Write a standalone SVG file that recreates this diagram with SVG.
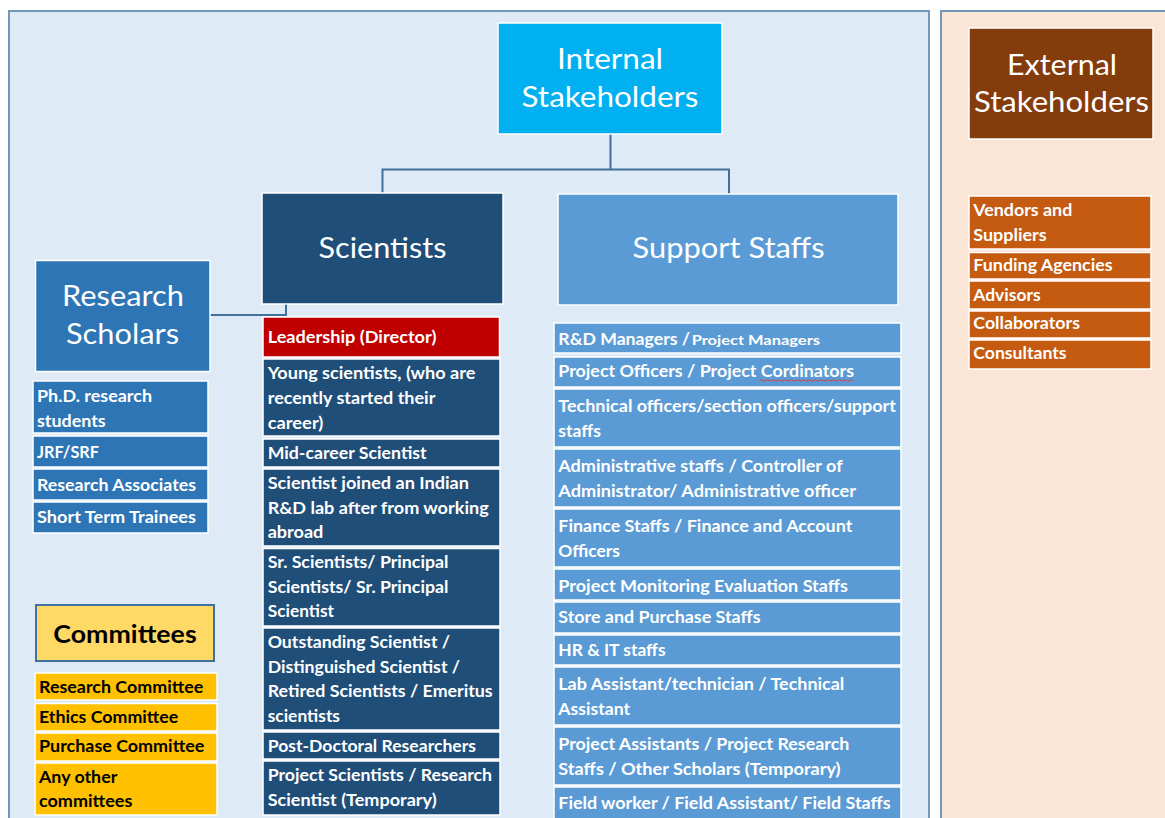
<svg xmlns="http://www.w3.org/2000/svg" width="1165" height="818" viewBox="0 0 1165 818">
  <style>
    .panel { stroke: #7396bb; stroke-width: 2; }
    .box { stroke: #ffffff; stroke-width: 1.5; }
    .title { font-family: Lato, "Liberation Sans", sans-serif; font-size: 29px; fill: #ffffff; text-anchor: middle; }
    .item { font-family: Lato, "Liberation Sans", sans-serif; font-size: 17px; font-weight: 700; fill: #ffffff; }
    .dark { fill: #000000; }
    .conn { fill: none; stroke: #41719c; stroke-width: 2; }
  </style>

  <rect width="1165" height="818" fill="#ffffff"/>

  <!-- panels -->
  <rect id="internal-panel" class="panel" x="9" y="11" width="920" height="830" fill="#deebf7"/>
  <rect id="external-panel" class="panel" x="941" y="11" width="240" height="830" fill="#fbe5d6"/>

  <!-- connectors -->
  <g id="connectors">
    <path class="conn" d="M610.5 134 V169.5 H382.5 V193"/>
    <path class="conn" d="M610.5 169.5 H729 V194"/>
    <path class="conn" d="M210 315 H286 V304"/>
  </g>

  <!-- Internal Stakeholders -->
  <g id="internal-stakeholders">
    <rect class="box" x="498" y="23" width="224" height="111" fill="#00b0f0"/>
    <text class="title" x="610" y="69" textLength="106" lengthAdjust="spacingAndGlyphs">Internal</text>
    <text class="title" x="610" y="106.5" textLength="177" lengthAdjust="spacingAndGlyphs">Stakeholders</text>
  </g>

  <!-- Scientists -->
  <g id="scientists">
    <rect class="box" x="262" y="193" width="241" height="111" fill="#1f4e79"/>
    <text class="title" x="382.5" y="258" textLength="128" lengthAdjust="spacingAndGlyphs">Scientists</text>
  </g>

  <!-- Support Staffs -->
  <g id="support-staffs">
    <rect class="box" x="558" y="194" width="340" height="111" fill="#5b9bd5"/>
    <text class="title" x="728.5" y="258" textLength="192" lengthAdjust="spacingAndGlyphs">Support Staffs</text>
  </g>

  <!-- Research Scholars -->
  <g id="research-scholars">
    <rect class="box" x="35.5" y="260.5" width="174.5" height="111" fill="#2e75b6"/>
    <text class="title" x="123" y="306" textLength="122" lengthAdjust="spacingAndGlyphs">Research</text>
    <text class="title" x="122.5" y="344" textLength="113" lengthAdjust="spacingAndGlyphs">Scholars</text>
  </g>

  <!-- Research Scholars list -->
  <g id="research-scholars-list">
    <rect class="box" x="33" y="381" width="175" height="52" fill="#2e75b6"/>
    <text class="item" x="37" y="401.7" textLength="115" lengthAdjust="spacingAndGlyphs">Ph.D. research</text>
    <text class="item" x="37" y="427" textLength="68.7" lengthAdjust="spacingAndGlyphs">students</text>
    <rect class="box" x="33" y="436" width="175" height="31" fill="#2e75b6"/>
    <text class="item" x="37" y="458.3" textLength="62" lengthAdjust="spacingAndGlyphs">JRF/SRF</text>
    <rect class="box" x="33" y="469" width="175" height="31" fill="#2e75b6"/>
    <text class="item" x="37" y="490.7" textLength="159" lengthAdjust="spacingAndGlyphs">Research Associates</text>
    <rect class="box" x="33" y="502" width="175" height="31" fill="#2e75b6"/>
    <text class="item" x="37" y="523.3" textLength="159" lengthAdjust="spacingAndGlyphs">Short Term Trainees</text>
  </g>

  <!-- Scientists list -->
  <g id="scientists-list">
    <rect class="box" x="263" y="317" width="236.5" height="40" fill="#c00000"/>
    <text class="item" x="267.7" y="343.3" textLength="168.7" lengthAdjust="spacingAndGlyphs">Leadership (Director)</text>
    <rect class="box" x="263" y="359" width="237" height="77" fill="#1f4e79"/>
    <text class="item" x="267.7" y="379" textLength="207.7" lengthAdjust="spacingAndGlyphs">Young scientists, (who are</text>
    <text class="item" x="267.7" y="404.3" textLength="167.7" lengthAdjust="spacingAndGlyphs">recently started their</text>
    <text class="item" x="267.7" y="429.3" textLength="55.7" lengthAdjust="spacingAndGlyphs">career)</text>
    <rect class="box" x="263" y="439" width="237" height="28" fill="#1f4e79"/>
    <text class="item" x="267.7" y="459" textLength="159" lengthAdjust="spacingAndGlyphs">Mid-career Scientist</text>
    <rect class="box" x="263" y="469" width="237" height="77" fill="#1f4e79"/>
    <text class="item" x="267.7" y="489" textLength="201.3" lengthAdjust="spacingAndGlyphs">Scientist joined an Indian</text>
    <text class="item" x="267.7" y="514" textLength="221" lengthAdjust="spacingAndGlyphs">R&amp;D lab after from working</text>
    <text class="item" x="267.7" y="538.3" textLength="55.7" lengthAdjust="spacingAndGlyphs">abroad</text>
    <rect class="box" x="263" y="548.5" width="237" height="77.5" fill="#1f4e79"/>
    <text class="item" x="267.7" y="568.3" textLength="180.7" lengthAdjust="spacingAndGlyphs">Sr. Scientists/ Principal</text>
    <text class="item" x="267.7" y="593.3" textLength="180.7" lengthAdjust="spacingAndGlyphs">Scientists/ Sr. Principal</text>
    <text class="item" x="267.7" y="617.3" textLength="66.3" lengthAdjust="spacingAndGlyphs">Scientist</text>
    <rect class="box" x="263" y="628" width="237" height="102" fill="#1f4e79"/>
    <text class="item" x="267.7" y="647.7" textLength="182.3" lengthAdjust="spacingAndGlyphs">Outstanding Scientist /</text>
    <text class="item" x="267.7" y="672.7" textLength="192.3" lengthAdjust="spacingAndGlyphs">Distinguished Scientist /</text>
    <text class="item" x="267.7" y="697.3" textLength="225" lengthAdjust="spacingAndGlyphs">Retired Scientists / Emeritus</text>
    <text class="item" x="267.7" y="721.7" textLength="72.3" lengthAdjust="spacingAndGlyphs">scientists</text>
    <rect class="box" x="263" y="732" width="237" height="27" fill="#1f4e79"/>
    <text class="item" x="267.7" y="752.3" textLength="208.3" lengthAdjust="spacingAndGlyphs">Post-Doctoral Researchers</text>
    <rect class="box" x="263" y="761" width="237" height="54" fill="#1f4e79"/>
    <text class="item" x="267.7" y="781" textLength="224.3" lengthAdjust="spacingAndGlyphs">Project Scientists / Research</text>
    <text class="item" x="267.7" y="805.7" textLength="169" lengthAdjust="spacingAndGlyphs">Scientist (Temporary)</text>
  </g>

  <!-- Committees -->
  <g id="committees">
    <rect x="36" y="605" width="178" height="56" fill="#ffd966" stroke="#41719c" stroke-width="2"/>
    <text class="item dark" x="125" y="643.3" text-anchor="middle" style="font-size:24px" textLength="143.3" lengthAdjust="spacingAndGlyphs">Committees</text>
  </g>

  <g id="committees-list">
    <rect class="box" x="35" y="673" width="182" height="27" fill="#ffc000"/>
    <text class="item dark" x="39" y="692.7" textLength="164.3" lengthAdjust="spacingAndGlyphs">Research Committee</text>
    <rect class="box" x="35" y="703.5" width="182" height="27.5" fill="#ffc000"/>
    <text class="item dark" x="39" y="722.7" textLength="139.3" lengthAdjust="spacingAndGlyphs">Ethics Committee</text>
    <rect class="box" x="35" y="733" width="182" height="28" fill="#ffc000"/>
    <text class="item dark" x="39" y="752.3" textLength="165.3" lengthAdjust="spacingAndGlyphs">Purchase Committee</text>
    <rect class="box" x="35" y="763" width="182" height="52" fill="#ffc000"/>
    <text class="item dark" x="39" y="782.7" textLength="78.3" lengthAdjust="spacingAndGlyphs">Any other</text>
    <text class="item dark" x="39" y="807.3" textLength="93.3" lengthAdjust="spacingAndGlyphs">committees</text>
  </g>

  <!-- Support Staffs list -->
  <g id="support-staffs-list">
    <rect class="box" x="554" y="323" width="347" height="30" fill="#5b9bd5"/>
    <text class="item" x="558.3" y="345" textLength="131.7" lengthAdjust="spacingAndGlyphs">R&amp;D Managers /</text>
    <text class="item" x="691.7" y="345" style="font-size:14px" textLength="128.3" lengthAdjust="spacingAndGlyphs">Project Managers</text>
    <rect class="box" x="554" y="357" width="347" height="30" fill="#5b9bd5"/>
    <text class="item" x="558.3" y="376.7" textLength="295.7" lengthAdjust="spacingAndGlyphs">Project Officers / Project Cordinators</text>
    <path d="M760 380.5 q1.5 -1.5 3 0 t3 0 t3 0 t3 0 t3 0 t3 0 t3 0 t3 0 t3 0 t3 0 t3 0 t3 0 t3 0 t3 0 t3 0 t3 0 t3 0 t3 0 t3 0 t3 0 t3 0 t3 0 t3 0 t3 0 t3 0 t3 0 t3 0 t3 0 t3 0 t3 0 t3 0" fill="none" stroke="#e03c3c" stroke-width="1"/>
    <rect class="box" x="554" y="389" width="347" height="58" fill="#5b9bd5"/>
    <text class="item" x="558.3" y="411.7" textLength="337.7" lengthAdjust="spacingAndGlyphs">Technical officers/section officers/support</text>
    <text class="item" x="558.3" y="436.7" textLength="42.7" lengthAdjust="spacingAndGlyphs">staffs</text>
    <rect class="box" x="554" y="449" width="347" height="58" fill="#5b9bd5"/>
    <text class="item" x="558.3" y="471.7" textLength="284.3" lengthAdjust="spacingAndGlyphs">Administrative staffs / Controller of</text>
    <text class="item" x="558.3" y="496.7" textLength="297.7" lengthAdjust="spacingAndGlyphs">Administrator/ Administrative officer</text>
    <rect class="box" x="554" y="509" width="347" height="58" fill="#5b9bd5"/>
    <text class="item" x="558.3" y="532.3" textLength="294" lengthAdjust="spacingAndGlyphs">Finance Staffs / Finance and Account</text>
    <text class="item" x="558.3" y="556.7" textLength="61.7" lengthAdjust="spacingAndGlyphs">Officers</text>
    <rect class="box" x="554" y="569" width="347" height="31" fill="#5b9bd5"/>
    <text class="item" x="558.3" y="591.7" textLength="289.7" lengthAdjust="spacingAndGlyphs">Project Monitoring Evaluation Staffs</text>
    <rect class="box" x="554" y="602" width="347" height="31" fill="#5b9bd5"/>
    <text class="item" x="558.3" y="623.3" textLength="202.3" lengthAdjust="spacingAndGlyphs">Store and Purchase Staffs</text>
    <rect class="box" x="554" y="635" width="347" height="30" fill="#5b9bd5"/>
    <text class="item" x="558.3" y="656" textLength="107.3" lengthAdjust="spacingAndGlyphs">HR &amp; IT staffs</text>
    <rect class="box" x="554" y="667" width="347" height="58" fill="#5b9bd5"/>
    <text class="item" x="558.3" y="690" textLength="286" lengthAdjust="spacingAndGlyphs">Lab Assistant/technician / Technical</text>
    <text class="item" x="558.3" y="715" textLength="71.7" lengthAdjust="spacingAndGlyphs">Assistant</text>
    <rect class="box" x="554" y="727" width="347" height="58" fill="#5b9bd5"/>
    <text class="item" x="558.3" y="750" textLength="291" lengthAdjust="spacingAndGlyphs">Project Assistants / Project Research</text>
    <text class="item" x="558.3" y="775" textLength="282.3" lengthAdjust="spacingAndGlyphs">Staffs / Other Scholars (Temporary)</text>
    <rect class="box" x="554" y="787" width="347" height="45" fill="#5b9bd5"/>
    <text class="item" x="558.3" y="809.3" textLength="332.3" lengthAdjust="spacingAndGlyphs">Field worker / Field Assistant/ Field Staffs</text>
  </g>

  <!-- External Stakeholders -->
  <g id="external-stakeholders">
    <rect class="box" x="969" y="28" width="184" height="111" fill="#843c0c"/>
    <text class="title" x="1062" y="75" textLength="110" lengthAdjust="spacingAndGlyphs">External</text>
    <text class="title" x="1061.5" y="111.7" textLength="175" lengthAdjust="spacingAndGlyphs">Stakeholders</text>
  </g>

  <g id="external-stakeholders-list">
    <rect class="box" x="969" y="196" width="182" height="53" fill="#c55a11"/>
    <text class="item" x="973.3" y="216" textLength="99" lengthAdjust="spacingAndGlyphs">Vendors and</text>
    <text class="item" x="973.3" y="241" textLength="73.3" lengthAdjust="spacingAndGlyphs">Suppliers</text>
    <rect class="box" x="969" y="252.5" width="182" height="26.5" fill="#c55a11"/>
    <text class="item" x="973.3" y="271" textLength="139.3" lengthAdjust="spacingAndGlyphs">Funding Agencies</text>
    <rect class="box" x="969" y="281" width="182" height="28" fill="#c55a11"/>
    <text class="item" x="973.3" y="300.7" textLength="67.3" lengthAdjust="spacingAndGlyphs">Advisors</text>
    <rect class="box" x="969" y="311" width="182" height="27" fill="#c55a11"/>
    <text class="item" x="973.3" y="329.3" textLength="106.7" lengthAdjust="spacingAndGlyphs">Collaborators</text>
    <rect class="box" x="969" y="340" width="182" height="29" fill="#c55a11"/>
    <text class="item" x="973.3" y="359" textLength="93.3" lengthAdjust="spacingAndGlyphs">Consultants</text>
  </g>
</svg>
